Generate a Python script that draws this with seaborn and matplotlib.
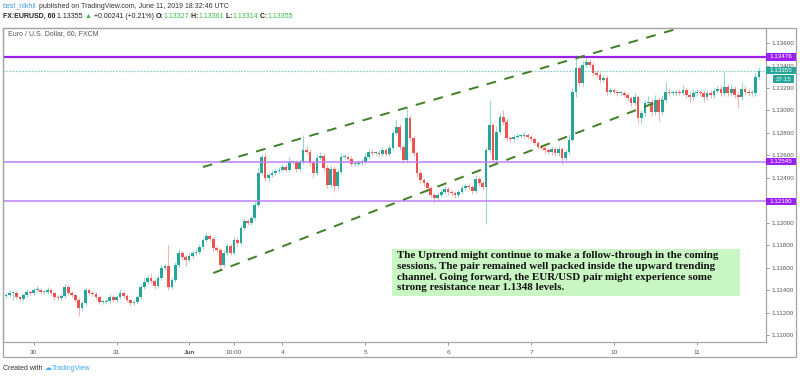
import numpy as np
import pandas as pd
import matplotlib
matplotlib.use("Agg")
import matplotlib.pyplot as plt
import seaborn as sns
from matplotlib.patches import Rectangle

# ---------------- data (EUR/USD, 1h candles, May 29 16:00 -> Jun 11 18:00) ----------------
close = [
    1.11356, 1.11374, 1.11374, 1.11338, 1.11321, 1.11356, 1.11383, 1.11374, 1.11401, 1.11401,
    1.11383, 1.11383, 1.11401, 1.11374, 1.11338, 1.11329, 1.11347, 1.11427, 1.11374, 1.11356,
    1.11312, 1.11240, 1.11285, 1.11401, 1.11374, 1.11365, 1.11338, 1.11294, 1.11294, 1.11303,
    1.11338, 1.11312, 1.11338, 1.11374, 1.11347, 1.11312, 1.11285, 1.11294, 1.11338, 1.11427,
    1.11472, 1.11508, 1.11481, 1.11436, 1.11508, 1.11597, 1.11614, 1.11427, 1.11490, 1.11623,
    1.11730, 1.11695, 1.11668, 1.11703, 1.11730, 1.11739, 1.11784, 1.11846, 1.11882, 1.11855,
    1.11775, 1.11757, 1.11623, 1.11730, 1.11793, 1.11730, 1.11846, 1.11819, 1.11953, 1.12015,
    1.11997, 1.12042, 1.12158, 1.12443, 1.12585, 1.12398, 1.12425, 1.12443, 1.12460, 1.12469,
    1.12496, 1.12469, 1.12541, 1.12541, 1.12478, 1.12541, 1.12647, 1.12630, 1.12532, 1.12443,
    1.12576, 1.12594, 1.12487, 1.12336, 1.12478, 1.12327, 1.12452, 1.12585, 1.12585, 1.12567,
    1.12523, 1.12523, 1.12532, 1.12541, 1.12585, 1.12630, 1.12621, 1.12621, 1.12612, 1.12647,
    1.12612, 1.12665, 1.12799, 1.12852, 1.12674, 1.12558, 1.12932, 1.12754, 1.12621, 1.12443,
    1.12380, 1.12354, 1.12309, 1.12247, 1.12220, 1.12247, 1.12273, 1.12300, 1.12273, 1.12264,
    1.12247, 1.12273, 1.12309, 1.12327, 1.12318, 1.12282, 1.12389, 1.12354, 1.12318, 1.12647,
    1.12870, 1.12558, 1.12808, 1.12941, 1.12897, 1.12754, 1.12745, 1.12763, 1.12772, 1.12772,
    1.12781, 1.12763, 1.12745, 1.12710, 1.12674, 1.12665, 1.12647, 1.12630, 1.12656, 1.12621,
    1.12656, 1.12576, 1.12630, 1.12736, 1.13164, 1.13378, 1.13244, 1.13404, 1.13431, 1.13404,
    1.13333, 1.13315, 1.13271, 1.13289, 1.13164, 1.13182, 1.13164, 1.13155, 1.13155, 1.13137,
    1.13110, 1.13066, 1.13119, 1.12932, 1.12977, 1.13066, 1.13075, 1.12986, 1.13093, 1.12986,
    1.13093, 1.13164, 1.13155, 1.13155, 1.13164, 1.13155, 1.13182, 1.13137, 1.13119, 1.13155,
    1.13164, 1.13155, 1.13119, 1.13155, 1.13137, 1.13173, 1.13191, 1.13155, 1.13208, 1.13155,
    1.13191, 1.13137, 1.13119, 1.13191, 1.13164, 1.13155, 1.13155, 1.13297, 1.13355,
]
first_open = 1.11347
# wick lengths beyond the body, in pips
wick_up = [
    2, 3, 2, 2, 1, 2, 3, 2, 2, 4,
    2, 2, 3, 2, 1, 2, 2, 3, 2, 2,
    1, 2, 2, 3, 2, 2, 2, 1, 2, 2,
    3, 2, 2, 4, 2, 2, 1, 2, 2, 3,
    4, 3, 4, 2, 3, 3, 2, 19, 3, 3,
    4, 2, 2, 3, 2, 3, 3, 2, 3, 2,
    2, 2, 2, 3, 3, 2, 4, 3, 3, 3,
    2, 3, 4, 5, 3, 4, 2, 3, 3, 3,
    3, 3, 4, 2, 2, 3, 13, 4, 3, 3,
    4, 4, 3, 3, 4, 3, 3, 4, 3, 2,
    3, 2, 3, 3, 4, 3, 3, 2, 3, 3,
    2, 3, 3, 7, 3, 2, 10, 3, 2, 2,
    3, 2, 2, 2, 2, 3, 3, 3, 2, 2,
    2, 3, 3, 3, 3, 2, 4, 3, 2, 3,
    22, 3, 5, 4, 6, 3, 2, 2, 3, 2,
    3, 2, 2, 2, 2, 2, 2, 2, 3, 2,
    3, 2, 3, 5, 4, 12, 3, 4, 4, 3,
    3, 3, 3, 2, 3, 3, 2, 2, 2, 2,
    2, 2, 4, 2, 3, 3, 5, 3, 4, 3,
    4, 9, 3, 3, 3, 3, 4, 3, 3, 3,
    3, 2, 3, 3, 3, 3, 3, 3, 13, 3,
    4, 3, 3, 6, 3, 3, 3, 4, 3,
]
wick_dn = [
    2, 2, 6, 2, 2, 2, 2, 2, 2, 2,
    2, 2, 2, 2, 3, 2, 2, 2, 2, 2,
    2, 7, 3, 2, 2, 2, 2, 2, 2, 2,
    2, 2, 2, 2, 2, 2, 3, 2, 2, 2,
    2, 2, 2, 3, 2, 2, 2, 3, 2, 2,
    2, 3, 5, 2, 2, 2, 2, 2, 2, 2,
    3, 2, 4, 2, 2, 2, 2, 3, 2, 2,
    2, 2, 2, 2, 2, 3, 3, 2, 2, 2,
    2, 2, 2, 2, 3, 2, 2, 2, 3, 4,
    2, 2, 3, 3, 2, 5, 3, 2, 2, 2,
    2, 2, 2, 2, 2, 2, 2, 2, 2, 2,
    2, 2, 2, 2, 3, 3, 3, 3, 3, 4,
    3, 3, 3, 3, 4, 3, 2, 2, 3, 3,
    3, 2, 2, 2, 3, 3, 2, 3, 3, 33,
    3, 3, 3, 2, 3, 3, 3, 3, 2, 2,
    2, 2, 2, 2, 2, 2, 3, 2, 3, 3,
    3, 5, 3, 2, 2, 4, 3, 3, 2, 2,
    3, 2, 3, 2, 3, 2, 2, 3, 2, 2,
    3, 3, 2, 4, 5, 3, 2, 4, 3, 8,
    3, 2, 2, 2, 3, 2, 2, 3, 4, 3,
    3, 3, 4, 3, 3, 3, 2, 3, 3, 3,
    3, 3, 10, 3, 3, 3, 3, 3, 2,
]

major_level = 1.13476
minor_levels = [1.12545, 1.12190]
last_price = 1.13355
countdown = "27:15"
price_ticks = [1.110, 1.112, 1.114, 1.116, 1.118, 1.120, 1.122, 1.124, 1.126, 1.128,
               1.130, 1.132, 1.134, 1.136]
hidden_ticks = [1.122]  # covered by the 1.12190 tag on the scale
time_tick_pos = [8, 32, 53, 66, 80, 104, 128, 152, 176, 200]
time_tick_labels = ["30", "31", "Jun", "10:00", "4", "5", "6", "7", "10", "11"]
upper_channel_i = [57, 201]
upper_channel_p = [1.12496, 1.13787]
lower_channel_i = [60, 190]
lower_channel_p = [1.11552, 1.13093]

note = ("The Uptrend might continue to make a follow-through in the coming\n"
        "sessions. The pair remained well packed inside the upward trending\n"
        "channel. Going forward, the EUR/USD pair might experience some\n"
        "strong resistance near 1.1348 levels.")

# ---------------- style ----------------
sns.set_theme(style="white")
plt.rcParams["font.family"] = ["Liberation Sans", "DejaVu Sans"]

W, H = 800, 378
fig = plt.figure(figsize=(W / 100, H / 100), dpi=100)
fig.patch.set_facecolor("white")

AX_L, AX_R, AX_T, AX_B = 3, 766, 28, 342
ax = fig.add_axes([AX_L / W, 1 - AX_B / H, (AX_R - AX_L) / W, (AX_B - AX_T) / H])
ax.set_facecolor("white")

GREEN = "#26a69a"
RED = "#ef5350"

df = pd.DataFrame({"close": close, "up_p": wick_up, "dn_p": wick_dn})
df["open"] = [first_open] + close[:-1]
df["i"] = np.arange(len(df))
df["top"] = df[["open", "close"]].max(axis=1)
df["bot"] = df[["open", "close"]].min(axis=1)
df["high"] = df["top"] + df["up_p"] * 1e-4
df["low"] = df["bot"] - df["dn_p"] * 1e-4
df["bull"] = df["close"] >= df["open"]
df["col"] = np.where(df["bull"], GREEN, RED)

# wicks
for bull, col in [(True, GREEN), (False, RED)]:
    d = df[df["bull"] == bull]
    ax.vlines(d["i"], d["low"], d["high"], colors=col, lw=0.8, alpha=0.45, zorder=2)
# bodies
heights = np.maximum(df["top"] - df["bot"], 0.00006)
ax.bar(df["i"], heights, bottom=df["bot"], width=0.78, color=df["col"], lw=0, zorder=3)

# horizontal levels
ax.axhline(major_level, color="#9c1ff2", lw=1.6, zorder=4)
for lv in minor_levels:
    ax.axhline(lv, color="#bf7ff5", lw=1.1, zorder=4)
ax.axhline(last_price, color="#8fd3cc", lw=0.9, ls=(0, (1.5, 1)), zorder=1)

# channel (seaborn)
for ci, cp in [(upper_channel_i, upper_channel_p), (lower_channel_i, lower_channel_p)]:
    sns.lineplot(x=ci, y=cp, ax=ax, color="#3f7f25", lw=1.4, sort=False, legend=False, zorder=5)
    ax.lines[-1].set_dashes([5, 4.5])

ax.set_xlim(-0.9, 220.06)
ax.set_ylim(1.10938, 1.13734)

# axes styling
for s in ax.spines.values():
    s.set_color("#a5a5a5")
    s.set_linewidth(0.9)
ax.yaxis.tick_right()
ax.set_yticks(price_ticks)
ax.set_yticklabels(["" if any(abs(p - h) < 1e-9 for h in hidden_ticks) else f"{p:.5f}"
                    for p in price_ticks])
ax.tick_params(axis="y", which="both", right=True, left=False, length=2.5, width=0.6,
               color="#888888", pad=1.5, labelsize=4.5, labelcolor="#555555")
ax.set_xticks(time_tick_pos)
ax.set_xticklabels(time_tick_labels)
ax.tick_params(axis="x", bottom=True, length=2.5, width=0.6, color="#888888", pad=3,
               labelsize=4.6, labelcolor="#555555")
ax.get_xticklabels()[2].set_fontweight("bold")
ax.grid(False)

# price labels on the scale
ytr = ax.get_yaxis_transform()
px_h = (1.13734 - 1.10938) / (AX_B - AX_T)


def price_tag(p, text, fc, width_px=30, x_off_px=0):
    h = 7.5 * px_h
    wdt = width_px / (AX_R - AX_L)
    x0 = 1.0 + x_off_px / (AX_R - AX_L)
    ax.add_patch(Rectangle((x0, p - h / 2), wdt, h, transform=ytr, facecolor=fc,
                           edgecolor="none", clip_on=False, zorder=10))
    ax.text(x0 + wdt / 2, p, text, transform=ytr, ha="center", va="center",
            fontsize=4.5, color="white", clip_on=False, zorder=11)


price_tag(major_level, f"{major_level:.5f}", "#9c1ff2")
for lv in minor_levels:
    price_tag(lv, f"{lv:.5f}", "#9c1ff2")
price_tag(last_price, f"{last_price:.5f}", GREEN)
price_tag(last_price - 8.5 * px_h, countdown, GREEN, width_px=21, x_off_px=7)

# outer frame
fig.add_artist(Rectangle((AX_L / W, 1 - 357 / H), (796 - AX_L) / W, (357 - AX_T) / H,
                         transform=fig.transFigure, fill=False, edgecolor="#a5a5a5", lw=0.9))

# symbol legend inside pane
fig.text(8 / W, 1 - 34 / H, "Euro / U.S. Dollar, 60, FXCM", fontsize=5.0, color="#555555",
         va="center", ha="left")

# header lines with mixed colours
renderer = fig.canvas.get_renderer()


def seq_text(x_px, y_px, pieces, size):
    x = x_px
    for s, col, wt in pieces:
        t = fig.text(x / W, 1 - y_px / H, s, color=col, fontsize=size, fontweight=wt,
                     va="center", ha="left")
        x += t.get_window_extent(renderer=renderer).width


seq_text(3, 6, [("best_nikhil", "#3d9ae0", "normal"),
                (" published on TradingView.com, June 11, 2019 18:32:46 UTC", "#333333", "normal")], 5.05)
OHLC_G = "#35b84a"
seq_text(3, 16, [("FX:EURUSD, 60", "#222222", "bold"),
                 (" 1.13355 ", "#222222", "normal"),
                 ("▲", OHLC_G, "normal"),
                 (" +0.00241 (+0.21%) ", "#222222", "normal"),
                 ("O:", "#222222", "bold"), ("1.13327", OHLC_G, "normal"),
                 (" H:", "#222222", "bold"), ("1.13361", OHLC_G, "normal"),
                 (" L:", "#222222", "bold"), ("1.13314", OHLC_G, "normal"),
                 (" C:", "#222222", "bold"), ("1.13355", OHLC_G, "normal")], 5.0)

# footer
seq_text(3, 368, [("Created with ", "#333333", "normal"),
                  ("☁", "#3fa9f5", "normal"),
                  ("TradingView", "#3fa9f5", "normal")], 5.0)

# annotation box
fig.add_artist(Rectangle((392 / W, 1 - 296 / H), (740 - 392) / W, (296 - 249) / H,
                         transform=fig.transFigure, facecolor="#c9f7c4", edgecolor="none", zorder=20))
fig.text(397 / W, 1 - 251 / H, note, fontsize=7.9, fontweight="bold", color="#111111",
         family=["Liberation Serif", "DejaVu Serif"], va="top", ha="left", linespacing=1.25,
         zorder=21)

fig.savefig("out.png", dpi=100, facecolor="white")
